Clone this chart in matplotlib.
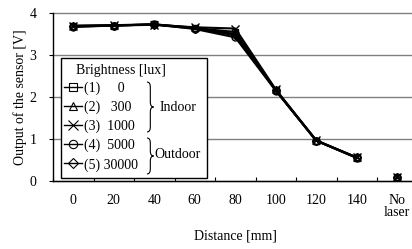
import numpy as np
import matplotlib
matplotlib.use("Agg")
import matplotlib.pyplot as plt
from matplotlib.lines import Line2D
from matplotlib.patches import Rectangle, PathPatch
from matplotlib.path import Path

plt.rcParams['font.family'] = ['Liberation Serif', 'DejaVu Serif']
plt.rcParams['font.size'] = 10

# categories on the x axis (last one is the "no laser" reading)
distances = ["0", "20", "40", "60", "80", "100", "120", "140", "No\nlaser"]

# sensor output [V] for each brightness, 0..140 mm, then no laser
out_0 = [3.68, 3.70, 3.73, 3.64, 3.55, 2.17, 0.96, 0.56, 0.09]
out_300 = [3.70, 3.71, 3.73, 3.65, 3.50, 2.16, 0.96, 0.55, 0.09]
out_1000 = [3.69, 3.71, 3.72, 3.66, 3.63, 2.18, 0.97, 0.56, 0.10]
out_5000 = [3.67, 3.70, 3.73, 3.62, 3.42, 2.15, 0.96, 0.55, 0.08]
out_30000 = [3.68, 3.70, 3.72, 3.63, 3.47, 2.16, 0.96, 0.56, 0.09]

series = [out_0, out_300, out_1000, out_5000, out_30000]
labels = ["(1)     0", "(2)   300", "(3)  1000", "(4)  5000", "(5) 30000"]
markers = ["s", "^", "x", "o", "D"]
msizes = [5, 5, 6, 5, 4]


def draw_brace(ax, x, y_top, y_bot, w, r):
    # right pointing curly brace in axes coordinates
    xm = x + w / 2
    ym = (y_top + y_bot) / 2
    verts = [(x, y_top), (xm, y_top), (xm, y_top - r),
             (xm, ym + r),
             (xm, ym), (x + w, ym),
             (xm, ym), (xm, ym - r),
             (xm, y_bot + r),
             (xm, y_bot), (x, y_bot)]
    codes = [Path.MOVETO, Path.CURVE3, Path.CURVE3,
             Path.LINETO,
             Path.CURVE3, Path.CURVE3,
             Path.CURVE3, Path.CURVE3,
             Path.LINETO,
             Path.CURVE3, Path.CURVE3]
    p = PathPatch(Path(verts, codes), transform=ax.transAxes, fill=False,
                  lw=0.8, edgecolor='black', zorder=6)
    ax.add_patch(p)


fig = plt.figure(figsize=(4.12, 2.49), dpi=100)
ax = fig.add_axes([53 / 412, 68 / 249, 364.5 / 412, 168 / 249])

x = np.arange(len(distances))
for vals, m, ms in zip(series, markers, msizes):
    # lines connect 0..140 mm only, the no-laser point stands alone
    ax.plot(x[:-1], vals[:-1], color='black', lw=1.5, marker=m, ms=ms,
            mfc='none', mec='black', mew=1, zorder=4)
    ax.plot(x[-1:], vals[-1:], color='black', lw=0, marker=m, ms=ms,
            mfc='none', mec='black', mew=1, zorder=4)

ax.set_xlim(-0.5, len(distances) - 0.5)
ax.set_ylim(0, 4)
ax.set_xticks(x)
ax.set_xticklabels(distances, linespacing=1.0)
ax.set_xticks(np.arange(len(distances) + 1) - 0.5, minor=True)
ax.tick_params(axis='x', which='major', length=0, pad=9)
ax.tick_params(axis='x', which='minor', direction='in', length=3, width=0.8)
ax.set_yticks([0, 1, 2, 3, 4])
ax.tick_params(axis='y', direction='out', length=3, width=0.8, pad=9)

ax.grid(axis='y', color='#808080', lw=1)
for gl in ax.get_ygridlines():
    gl.set_clip_on(False)
ax.set_axisbelow(True)
for s in ['top', 'right']:
    ax.spines[s].set_visible(False)
ax.spines['left'].set_linewidth(1)
ax.spines['bottom'].set_linewidth(1)

ax.set_xlabel("Distance [mm]", labelpad=7)
ax.set_ylabel("Output of the sensor [V]", labelpad=2)

# legend box with brightness groups
ax.add_patch(Rectangle((0.022, 0.018), 0.40, 0.714, transform=ax.transAxes,
                       facecolor='white', edgecolor='black', lw=1, zorder=5))
ax.text(0.063, 0.66, "Brightness [lux]", transform=ax.transAxes,
        va='center', ha='left', zorder=6)

handles = [Line2D([], [], color='black', lw=1, marker=m, ms=ms + 1,
                  mfc='none', mec='black', mew=0.8)
           for m, ms in zip(markers, msizes)]
leg = ax.legend(handles, labels, loc='upper left', bbox_to_anchor=(0.03, 0.59),
                frameon=False, borderpad=0, borderaxespad=0, labelspacing=0.4,
                handlelength=1.3, handletextpad=0.15)
leg.set_zorder(7)

draw_brace(ax, 0.258, 0.589, 0.292, 0.018, 0.03)
draw_brace(ax, 0.258, 0.256, 0.042, 0.018, 0.03)
ax.text(0.343, 0.44, "Indoor", transform=ax.transAxes, ha='center',
        va='center', zorder=6)
ax.text(0.341, 0.155, "Outdoor", transform=ax.transAxes, ha='center',
        va='center', zorder=6)

fig.savefig("out.png", dpi=100)
